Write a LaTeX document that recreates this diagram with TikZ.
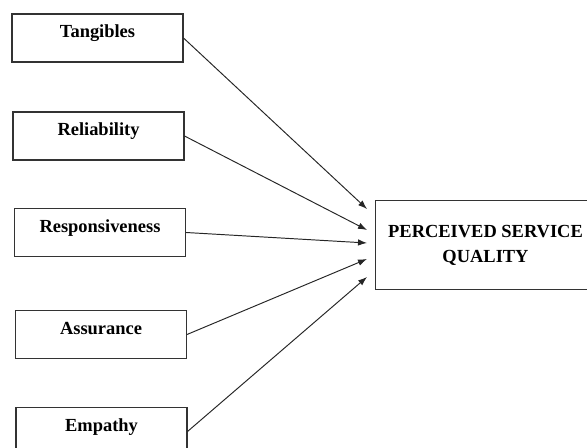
\documentclass[tikz,border=0pt]{standalone}
\usepackage{fontspec}
\setmainfont{Liberation Serif}
\usetikzlibrary{arrows.meta}
\begin{document}
\begin{tikzpicture}[>={Latex[length=1.8mm, width=1.3mm]}, x=.02cm, y=-.02cm]
\tikzset{dim/.style={draw=black!80, line width=.6pt, minimum width=3.42cm, inner sep=0,
  text height=.48cm, text depth=.48cm, font=\fontsize{10.5}{12}\selectfont\bfseries}}
\useasboundingbox (0,0) rectangle (587,448);
\clip (0,0) rectangle (587,448);
% dimensions
\node[dim] (tan) at (97.5,38) {Tangibles};
\node[dim] (rel) at (98.5,136) {Reliability};
\node[dim] (res) at (100,232.5) {Responsiveness};
\node[dim] (ass) at (101,334.5) {Assurance};
\node[dim] (emp) at (101.5,431.5) {Empathy};
% outcome
\node[draw=black!80, line width=.6pt, anchor=west, minimum width=4.4cm, minimum height=1.77cm,
  align=center, font=\fontsize{10.5}{14.2}\selectfont\bfseries] (pq) at (375,245)
  {PERCEIVED SERVICE\\QUALITY};
\foreach \n/\y in {a/209, b/230, c/243, d/259, e/277}
   \coordinate (\n) at (367,\y);
\foreach \s/\t in {tan/a, rel/b, res/c, ass/d, emp/e}
{
   \draw[->, black!85, line width=.55pt](\s.east)--(\t);
}
\end{tikzpicture}
\end{document}
